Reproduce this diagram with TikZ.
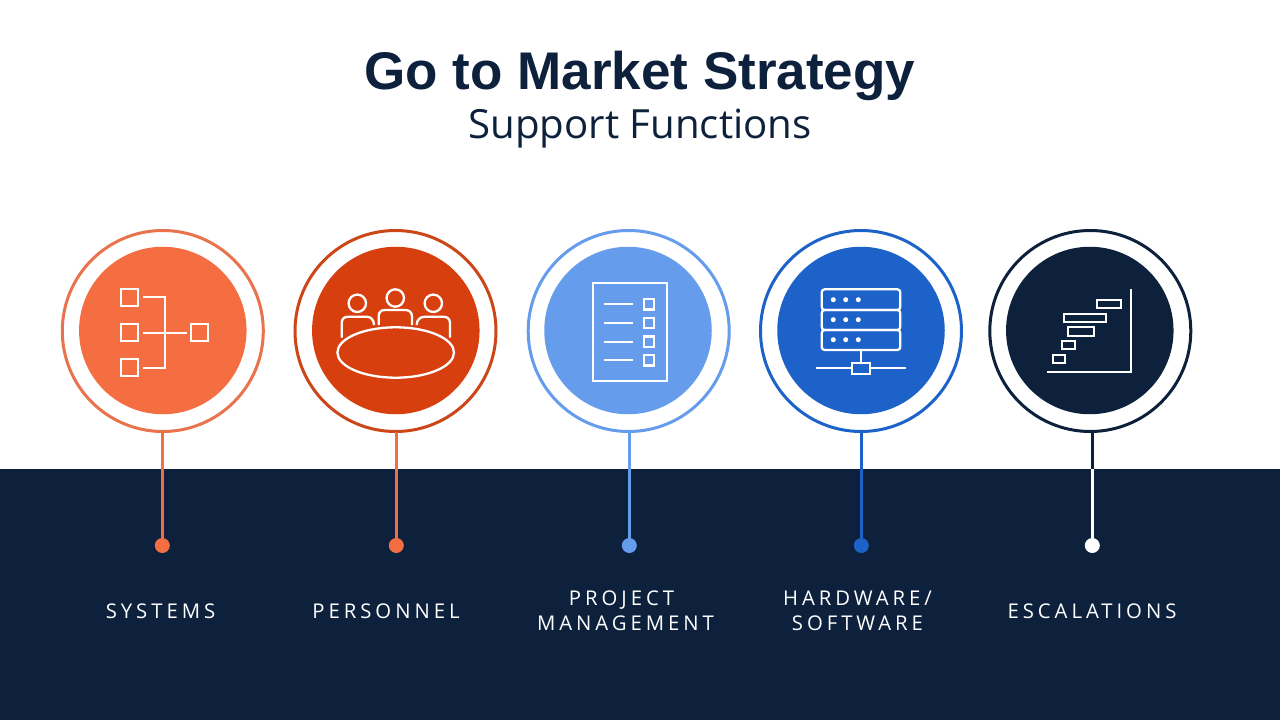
\documentclass[tikz,border=0pt]{standalone}
\usepackage{fontspec}
\setmainfont{Open Sans}
\newfontfamily\titlefont{Liberation Sans}[Scale=1]
\newfontfamily\labelfont{Open Sans}[LetterSpace=19.5]
\definecolor{navy}{HTML}{0D213D}
\definecolor{coral}{HTML}{F56E41}
\definecolor{coralrim}{HTML}{E8734D}
\definecolor{rust}{HTML}{D83F0E}
\definecolor{rustrim}{HTML}{CC4618}
\definecolor{sky}{HTML}{659CEC}
\definecolor{royal}{HTML}{1C62C9}
\tikzset{
  ring/.style={circle, draw=#1, line width=3pt, fill=white, minimum size=201pt, inner sep=0pt, outer sep=0pt},
  disc/.style={circle, fill=#1, minimum size=167.5pt, inner sep=0pt, outer sep=0pt},
  stem/.style={draw=#1, line width=3pt},
  tip/.style={circle, fill=#1, minimum size=15pt, inner sep=0pt, outer sep=0pt},
  caption/.style={text=white, font=\labelfont\fontsize{20.3pt}{25pt}\selectfont, align=center, inner sep=0pt},
  icon/.style={draw=white, line width=2.3pt},
}
\begin{document}
\begin{tikzpicture}[x=1pt, y=-1pt]
    \useasboundingbox (0, 0) rectangle (1280, 720);
    \fill[white] (0, 0) rectangle (1280, 720);
    \fill[navy] (0, 469) rectangle (1280, 720);
    % heading
    \node[text=navy, font=\titlefont\bfseries\fontsize{53pt}{60pt}\selectfont] (title) at (640, 76) {Go to Market Strategy};
    \node[text=navy, font=\fontsize{40.2pt}{46pt}\selectfont] (subtitle) at (640, 129) {Support Functions};
    % rings
    \node[ring=coralrim] (ring1) at (162.8, 331) {};
    \node[ring=rustrim] (ring2) at (395.5, 331) {};
    \node[ring=sky] (ring3) at (628.7, 331) {};
    \node[ring=royal] (ring4) at (861, 331) {};
    \node[ring=navy] (ring5) at (1090.3, 331) {};
    \node[disc=coral] (disc1) at (162.8, 330.5) {};
    \node[disc=rust] (disc2) at (395.8, 330.5) {};
    \node[disc=sky] (disc3) at (628, 330.5) {};
    \node[disc=royal] (disc4) at (861, 330.5) {};
    \node[disc=navy] (disc5) at (1089.8, 330.5) {};
    % stems
    \node[tip=coral] (tip1) at (162.3, 545.5) {};
    \node[tip=coral] (tip2) at (396.3, 545.5) {};
    \node[tip=sky] (tip3) at (629.3, 545.5) {};
    \node[tip=royal] (tip4) at (861.3, 545.5) {};
    \node[tip=white] (tip5) at (1092.3, 545.5) {};
    \coordinate (edge5) at (1092.3, 469);
    \draw[stem=coral] (ring1.south -| tip1) -- (tip1);
    \draw[stem=coral] (ring2.south -| tip2) -- (tip2);
    \draw[stem=sky] (ring3.south -| tip3) -- (tip3);
    \draw[stem=royal] (ring4.south -| tip4) -- (tip4);
    \draw[stem=navy] (ring5.south -| tip5) -- (edge5);
    \draw[stem=white] (edge5) -- (tip5);
    % captions
    \node[caption] (cap1) at (160.5, 611) {SYSTEMS};
    \node[caption] (cap2) at (386, 611) {PERSONNEL};
    \node[caption] (cap3) at (625.5, 610.5) {PROJECT\hspace*{8pt}\\MANAGEMENT};
    \node[caption] (cap4) at (857.5, 610.5) {HARDWARE/\\SOFTWARE};
    \node[caption] (cap5) at (1092, 611) {ESCALATIONS};
    % systems icon
    \draw[icon] (121, 289.3) rectangle (138.3, 306);
    \draw[icon] (121, 324.3) rectangle (138.3, 341);
    \draw[icon] (121, 359.3) rectangle (138.3, 376);
    \draw[icon] (191, 324.3) rectangle (208, 341);
    \draw[icon] (142.7, 297) -- (165.3, 297) -- (165.3, 368.3) -- (142.7, 368.3);
    \draw[icon] (142.7, 332.7) -- (186.7, 332.7);
    % personnel icon
    \draw[icon] (395.7, 352.5) ellipse[x radius=58.3, y radius=25.2];
    \draw[icon] (357.3, 303.3) circle[radius=8.7];
    \draw[icon] (395.3, 298) circle[radius=8.7];
    \draw[icon] (433.3, 303.3) circle[radius=8.7];
    \draw[icon] (341.7, 337.7) -- (341.7, 323.3) .. controls (341.7, 319) and (344, 316.7) .. (348.3, 316.7) -- (366.7, 316.7) .. controls (371, 316.7) and (374, 320) .. (374, 325);
    \draw[icon] (378.7, 325) -- (378.7, 316.7) .. controls (378.7, 312) and (381, 310) .. (385, 310) -- (405, 310) .. controls (409, 310) and (412, 312) .. (412, 316.7) -- (412, 325);
    \draw[icon] (416.7, 325) .. controls (416.7, 320) and (420, 316.7) .. (425, 316.7) -- (443.3, 316.7) .. controls (447.5, 316.7) and (450, 319) .. (450, 323.3) -- (450, 337.7);
    % checklist icon
    \draw[icon] (592.7, 283) rectangle (667, 381);
    \draw[icon] (604.3, 304.3) -- (633.3, 304.3);
    \draw[icon] (604.3, 323) -- (633.3, 323);
    \draw[icon] (604.3, 341.7) -- (633.3, 341.7);
    \draw[icon] (604.3, 360.3) -- (633.3, 360.3);
    \draw[icon] (643.7, 299.2) rectangle (654.3, 309.4);
    \draw[icon] (643.7, 317.9) rectangle (654.3, 328.1);
    \draw[icon] (643.7, 336.6) rectangle (654.3, 346.8);
    \draw[icon] (643.7, 355.2) rectangle (654.3, 365.4);
    % server icon
    \draw[icon, rounded corners=3pt] (821.7, 289.3) rectangle (900.3, 310);
    \draw[icon, rounded corners=3pt] (821.7, 310) rectangle (900.3, 330);
    \draw[icon, rounded corners=3pt] (821.7, 330) rectangle (900.3, 350);
    \fill[white] (833.3, 299.7) circle[radius=2.5];
    \fill[white] (845.7, 299.7) circle[radius=2.5];
    \fill[white] (858.3, 299.7) circle[radius=2.5];
    \fill[white] (833.3, 319.7) circle[radius=2.5];
    \fill[white] (845.7, 319.7) circle[radius=2.5];
    \fill[white] (858.3, 319.7) circle[radius=2.5];
    \fill[white] (833.3, 339.7) circle[radius=2.5];
    \fill[white] (845.7, 339.7) circle[radius=2.5];
    \fill[white] (858.3, 339.7) circle[radius=2.5];
    \draw[icon] (861, 350) -- (861, 363.3);
    \draw[icon] (851.7, 363.3) rectangle (870.3, 374);
    \draw[icon] (816, 368.3) -- (851.7, 368.3);
    \draw[icon] (870.3, 368.3) -- (905.7, 368.3);
    % gantt icon
    \draw[icon] (1130.7, 289.3) -- (1130.7, 372.3) -- (1047.3, 372.3);
    \draw[icon] (1096.7, 300.3) rectangle (1121, 308.3);
    \draw[icon] (1064.3, 314) rectangle (1105.7, 322);
    \draw[icon] (1068, 327.3) rectangle (1094, 335.7);
    \draw[icon] (1061.7, 341.3) rectangle (1075, 349.3);
    \draw[icon] (1053, 355) rectangle (1065.3, 363);
\end{tikzpicture}
\end{document}
